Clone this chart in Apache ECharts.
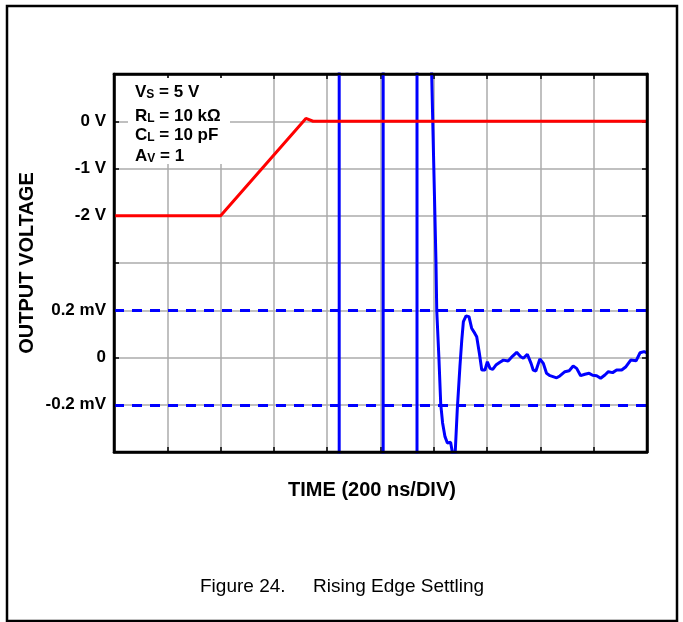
<!DOCTYPE html>
<html>
<head>
<meta charset="utf-8">
<title>Rising Edge Settling</title>
<script src="https://cdn.jsdelivr.net/npm/echarts@6/dist/echarts.min.js"></script>
<style>
  html, body { margin: 0; padding: 0; background: #fff; }
  #chart { width: 683px; height: 622px; }
</style>
</head>
<body>
<div id="chart"></div>
<script>
// time axis (ns), 200 ns per division
var timeMin = 0, timeMax = 2000, timeStep = 200;

// input step, volts
var redTime = [0, 400, 720, 747, 2000];
var redVolt = [-2, -2, 0.06, 0, 0];

// output error, mV (+-3 = off scale)
var blueTime = [845, 845, 1010, 1010, 1137, 1137, 1180, 1192,
  1208, 1211, 1219, 1226, 1233, 1242, 1251, 1257, 1263, 1267,
  1271, 1275, 1280, 1288, 1298, 1305, 1311, 1321, 1332, 1342,
  1354, 1361, 1371, 1380, 1392, 1401, 1411, 1421, 1433, 1448,
  1461, 1479, 1496, 1511, 1526, 1536, 1551, 1565, 1573, 1583,
  1598, 1611, 1623, 1636, 1661, 1673, 1692, 1708, 1723, 1736,
  1751, 1767, 1783, 1796, 1811, 1826, 1842, 1855, 1871, 1886,
  1905, 1921, 1939, 1959, 1974, 1989, 2000];
var blueMv = [-3, 3, 3, -3, -3, 3, 3, 1.2,
  0.413, 0.201, 0.003, -0.197, -0.277, -0.335, -0.362, -0.366, -0.359, -0.384,
  -0.41, -0.44, -0.41, -0.222, -0.039, 0.074, 0.152, 0.176, 0.173, 0.124,
  0.102, 0.088, 0.018, -0.053, -0.053, -0.018, -0.046, -0.050, -0.032, -0.020,
  -0.011, -0.015, 0.006, 0.022, 0.003, -0.003, 0.014, -0.025, -0.053, -0.057,
  -0.006, -0.025, -0.067, -0.077, -0.086, -0.078, -0.060, -0.056, -0.036, -0.046,
  -0.077, -0.071, -0.067, -0.075, -0.077, -0.088, -0.074, -0.060, -0.064, -0.053,
  -0.053, -0.039, -0.011, -0.014, 0.020, 0.025, 0.020];

// settling band, mV
var bandMv = [0.2, -0.2];

// tick labels
var voltTicks = [0, -1, -2];
var voltTickLabels = ['0 V', '-1 V', '-2 V'];
var mvTicks = [0.2, 0, -0.2];
var mvTickLabels = ['0.2 mV', '0', '-0.2 mV'];

var font = 'Liberation Sans, Arial, Helvetica, sans-serif';

function pick(ticks, labels) {
  return function (v) {
    for (var i = 0; i < ticks.length; i++) {
      if (Math.abs(ticks[i] - v) < 1e-6) return labels[i];
    }
    return '';
  };
}

function zip(xs, ys) {
  return xs.map(function (x, i) { return [x, ys[i]]; });
}

var black = '#000';
var gridGray = '#ababab';
var labelStyle = { color: black, fontFamily: font, fontWeight: 'bold', fontSize: 17, margin: 8 };
var inTick = { show: true, inside: true, length: 5, lineStyle: { color: black, width: 1.5 } };
var frameLine = { show: true, onZero: false, lineStyle: { color: black, width: 2.5 } };

var rich = {
  a: { fontFamily: font, fontWeight: 'bold', fontSize: 17, color: black, verticalAlign: 'bottom', lineHeight: 18 },
  s: { fontFamily: font, fontWeight: 'bold', fontSize: 12, color: black, verticalAlign: 'bottom', lineHeight: 16 }
};

function boxLine(y, big, sub, rest) {
  return {
    type: 'text', left: 135, top: y, z: 101,
    style: { text: '{a|' + big + '}{s|' + sub + '}{a|' + rest + '}', rich: rich }
  };
}

var chart = echarts.init(document.getElementById('chart'));

chart.setOption({
  backgroundColor: '#fff',
  animation: false,
  grid: { left: 114, right: 36, top: 74, bottom: 170 },
  xAxis: [{
    type: 'value', min: timeMin, max: timeMax, interval: timeStep, position: 'bottom',
    axisLine: frameLine,
    axisTick: inTick,
    axisLabel: { show: false },
    splitLine: { show: true, lineStyle: { color: gridGray, width: 1.5 } }
  }, {
    type: 'value', min: timeMin, max: timeMax, interval: timeStep, position: 'top',
    axisLine: frameLine,
    axisTick: inTick,
    axisLabel: { show: false },
    splitLine: { show: false }
  }],
  yAxis: [{
    type: 'value', min: -7, max: 1, interval: 1, position: 'left',
    name: 'OUTPUT VOLTAGE', nameLocation: 'middle', nameGap: 77, nameRotate: 90,
    nameTextStyle: { color: black, fontFamily: font, fontWeight: 'bold', fontSize: 20 },
    axisLine: frameLine,
    axisTick: inTick,
    axisLabel: Object.assign({ formatter: pick(voltTicks, voltTickLabels) }, labelStyle),
    splitLine: { show: true, lineStyle: { color: gridGray, width: 1.5 } }
  }, {
    type: 'value', min: -0.4, max: 1.2, interval: 0.2, position: 'left',
    axisLine: { show: false, onZero: false },
    axisTick: { show: false },
    axisLabel: Object.assign({ formatter: pick(mvTicks, mvTickLabels) }, labelStyle),
    splitLine: { show: false }
  }, {
    type: 'value', min: -7, max: 1, interval: 1, position: 'right',
    axisLine: frameLine,
    axisTick: inTick,
    axisLabel: { show: false },
    splitLine: { show: false }
  }],
  series: [{
    name: 'error', type: 'line', xAxisIndex: 0, yAxisIndex: 1,
    data: zip(blueTime, blueMv),
    symbol: 'none', clip: true, z: 3,
    lineStyle: { color: '#0000ff', width: 3 },
    markLine: {
      silent: true, symbol: 'none', label: { show: false },
      lineStyle: { color: '#0000ff', width: 3, type: [10, 8] },
      data: bandMv.map(function (v) { return { yAxis: v }; })
    }
  }, {
    name: 'input', type: 'line', xAxisIndex: 0, yAxisIndex: 0,
    data: zip(redTime, redVolt),
    symbol: 'none', clip: true, z: 4,
    lineStyle: { color: '#ff0000', width: 3 }
  }],
  graphic: [
    // outer figure frame
    { type: 'rect', z: 100, shape: { x: 7, y: 6, width: 670, height: 615 },
      style: { fill: 'none', stroke: black, lineWidth: 2.5 } },
    // plot frame
    { type: 'rect', z: 100, shape: { x: 114, y: 74, width: 533, height: 378 },
      style: { fill: 'none', stroke: black, lineWidth: 2.5 } },
    // conditions box
    { type: 'rect', z: 100, shape: { x: 128, y: 78, width: 102, height: 86 },
      style: { fill: '#fff', stroke: 'none' } },
    boxLine(84, 'V', 'S', ' = 5 V'),
    boxLine(108, 'R', 'L', ' = 10 kΩ'),
    boxLine(127, 'C', 'L', ' = 10 pF'),
    boxLine(148, 'A', 'V', ' = 1'),
    { type: 'text', z: 101, x: 372, y: 490,
      style: { text: 'TIME (200 ns/DIV)', fill: black, font: 'bold 20px ' + font,
        textAlign: 'center', textVerticalAlign: 'middle' } },
    { type: 'text', z: 101, x: 200, y: 587,
      style: { text: 'Figure 24.', fill: black, font: '19px ' + font,
        textAlign: 'left', textVerticalAlign: 'middle' } },
    { type: 'text', z: 101, x: 313, y: 587,
      style: { text: 'Rising Edge Settling', fill: black, font: '19px ' + font,
        textAlign: 'left', textVerticalAlign: 'middle' } }
  ]
});
</script>
</body>
</html>
